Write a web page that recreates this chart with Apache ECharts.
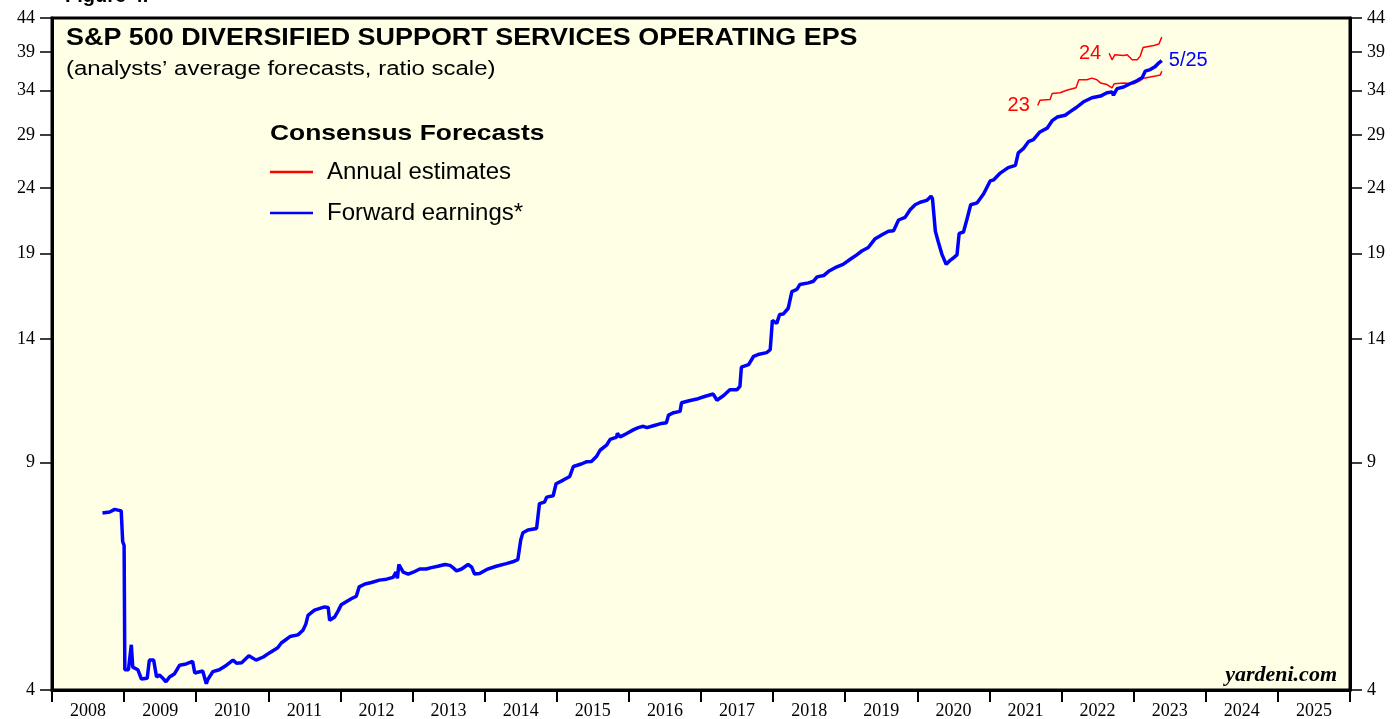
<!DOCTYPE html>
<html>
<head>
<meta charset="utf-8">
<script src="https://cdn.jsdelivr.net/npm/echarts@6/dist/echarts.min.js"></script>
<style>
  html, body { margin: 0; padding: 0; background: #fff; }
  #chart { width: 1393px; height: 719px; }
</style>
</head>
<body>
<div id="chart"></div>
<script>
// year labels along the bottom
const years = ['2008','2009','2010','2011','2012','2013','2014','2015','2016','2017','2018','2019','2020','2021','2022','2023','2024','2025']
// y ticks (ratio scale)
const yTicks = [4, 9, 14, 19, 24, 29, 34, 39, 44]

// forward earnings, [decimal year, EPS]
const forwardEps = [
  [2008.70,7.52],[2008.80,7.55],[2008.87,7.62],[2008.96,7.58],[2008.98,6.79],[2009.00,6.70],[2009.01,4.30],
  [2009.06,4.30],[2009.10,4.70],[2009.12,4.34],[2009.19,4.30],[2009.24,4.16],[2009.32,4.17],[2009.34,4.17],
  [2009.35,4.45],[2009.41,4.45],[2009.45,4.19],[2009.49,4.22],[2009.53,4.18],[2009.58,4.12],[2009.63,4.19],
  [2009.70,4.24],[2009.77,4.37],[2009.86,4.39],[2009.95,4.43],[2009.98,4.25],[2010.09,4.28],[2010.14,4.09],
  [2010.16,4.15],[2010.23,4.27],[2010.32,4.30],[2010.42,4.37],[2010.51,4.45],[2010.56,4.40],[2010.63,4.41],
  [2010.73,4.52],[2010.83,4.45],[2010.93,4.50],[2011.02,4.57],[2011.13,4.65],[2011.18,4.73],[2011.30,4.84],
  [2011.41,4.87],[2011.48,4.95],[2011.52,5.06],[2011.55,5.22],[2011.64,5.32],[2011.78,5.38],[2011.83,5.37],
  [2011.85,5.13],[2011.92,5.19],[2011.97,5.31],[2012.01,5.42],[2012.08,5.48],[2012.15,5.54],[2012.22,5.59],
  [2012.26,5.78],[2012.34,5.84],[2012.43,5.87],[2012.54,5.92],[2012.64,5.94],[2012.73,5.98],[2012.77,6.09],
  [2012.79,5.96],[2012.81,6.26],[2012.87,6.09],[2012.94,6.05],[2013.01,6.09],[2013.10,6.16],[2013.19,6.16],
  [2013.26,6.19],[2013.35,6.22],[2013.45,6.26],[2013.52,6.24],[2013.56,6.19],[2013.61,6.12],[2013.68,6.16],
  [2013.77,6.26],[2013.82,6.20],[2013.86,6.05],[2013.93,6.06],[2014.03,6.15],[2014.16,6.22],[2014.30,6.28],
  [2014.39,6.32],[2014.46,6.37],[2014.50,6.83],[2014.53,7.01],[2014.60,7.08],[2014.72,7.12],[2014.76,7.78],
  [2014.83,7.82],[2014.86,7.96],[2014.95,8.00],[2014.99,8.35],[2015.09,8.46],[2015.18,8.57],[2015.23,8.88],
  [2015.34,8.96],[2015.41,9.03],[2015.48,9.04],[2015.55,9.20],[2015.60,9.41],[2015.69,9.58],[2015.74,9.78],
  [2015.83,9.86],[2015.84,10.0],[2015.88,9.87],[2015.97,9.99],[2016.06,10.12],[2016.13,10.20],[2016.20,10.25],
  [2016.25,10.20],[2016.34,10.27],[2016.43,10.34],[2016.52,10.38],[2016.55,10.67],[2016.62,10.76],[2016.71,10.81],
  [2016.73,11.15],[2016.85,11.24],[2016.96,11.31],[2017.06,11.41],[2017.17,11.50],[2017.22,11.25],[2017.31,11.43],
  [2017.40,11.68],[2017.50,11.68],[2017.54,11.82],[2017.56,12.66],[2017.66,12.77],[2017.73,13.16],[2017.79,13.24],
  [2017.91,13.33],[2017.96,13.47],[2017.99,14.96],[2018.05,14.80],[2018.09,15.27],[2018.14,15.30],[2018.21,15.62],
  [2018.26,16.58],[2018.33,16.70],[2018.37,17.00],[2018.49,17.10],[2018.56,17.20],[2018.61,17.47],[2018.70,17.55],
  [2018.77,17.82],[2018.86,18.05],[2018.97,18.27],[2019.07,18.60],[2019.16,18.90],[2019.23,19.16],[2019.32,19.40],
  [2019.41,19.99],[2019.51,20.30],[2019.60,20.56],[2019.67,20.60],[2019.74,21.40],[2019.83,21.60],[2019.90,22.20],
  [2019.97,22.60],[2020.04,22.80],[2020.13,22.95],[2020.19,23.30],[2020.21,23.10],[2020.25,20.56],[2020.29,19.80],
  [2020.34,18.95],[2020.40,18.27],[2020.46,18.55],[2020.50,18.70],[2020.55,18.90],[2020.58,20.40],[2020.64,20.50],
  [2020.69,21.50],[2020.74,22.60],[2020.83,22.75],[2020.92,23.50],[2021.01,24.60],[2021.06,24.70],[2021.15,25.30],
  [2021.26,25.80],[2021.36,26.00],[2021.40,27.20],[2021.47,27.60],[2021.54,28.30],[2021.61,28.50],[2021.70,29.30],
  [2021.80,29.70],[2021.87,30.50],[2021.94,30.90],[2022.05,31.10],[2022.12,31.50],[2022.21,32.00],[2022.30,32.60],
  [2022.42,33.10],[2022.54,33.30],[2022.63,33.70],[2022.70,33.80],[2022.72,33.40],[2022.77,34.20],[2022.86,34.40],
  [2022.95,34.80],[2023.05,35.20],[2023.12,35.60],[2023.16,36.40],[2023.23,36.60],[2023.30,37.00],[2023.35,37.50],
  [2023.39,37.80]
]

// annual estimates for 2023
const annual2023 = [
  [2021.67,32.2],[2021.70,32.8],[2021.84,32.9],[2021.87,33.6],[2021.98,33.7],[2022.07,34.0],[2022.20,34.3],
  [2022.24,35.3],[2022.35,35.3],[2022.42,35.5],[2022.49,35.3],[2022.54,34.9],[2022.63,34.7],[2022.70,34.3],
  [2022.73,34.8],[2022.86,34.9],[2023.00,34.8],[2023.09,35.2],[2023.14,35.5],[2023.32,35.8],[2023.37,35.9],
  [2023.39,36.4]
]

// annual estimates for 2024
const annual2024 = [
  [2022.66,38.8],[2022.70,37.9],[2022.74,38.6],[2022.86,38.5],[2022.91,38.6],[2022.98,37.9],[2023.05,37.9],
  [2023.09,38.4],[2023.13,39.6],[2023.28,39.9],[2023.35,40.1],[2023.39,41.1]
]

const serif = '"Liberation Serif", "DejaVu Serif", serif'
const sans = '"Liberation Sans", Arial, sans-serif'

const ec = echarts.init(document.getElementById('chart'))

const yAxisBase = {
  type: 'log',
  min: 4,
  max: 44,
  axisLine: { show: true, lineStyle: { color: '#000', width: 3 } },
  axisTick: { show: true, length: 12, inside: false, customValues: yTicks, lineStyle: { color: '#000', width: 1.5 } },
  axisLabel: { customValues: yTicks, color: '#000', fontFamily: serif, fontSize: 18, margin: 17 },
  splitLine: { show: false },
  minorTick: { show: false }
}

// header texts are a bit wider than the font, so stretch them a little
function headText (text, x, y, font, sx) {
  return {
    type: 'text', x, y, scaleX: sx, z: 10,
    style: { text, font, fill: '#000', verticalAlign: 'middle' }
  }
}

ec.setOption({
  animation: false,
  backgroundColor: '#fff',
  title: {
    text: 'yardeni.com',
    right: 56, top: 664, padding: 0,
    textStyle: { fontFamily: serif, fontWeight: 'bold', fontStyle: 'italic', fontSize: 22, color: '#000' }
  },
  graphic: [
    { type: 'text', left: 65, top: -14, style: { text: 'Figure 4.', font: 'bold 20px ' + sans, fill: '#000' } },
    headText('S&P 500 DIVERSIFIED SUPPORT SERVICES OPERATING EPS', 66, 39, 'bold 23px ' + sans, 1.17),
    headText('(analysts’ average forecasts, ratio scale)', 66, 69, '20px ' + sans, 1.2),
    headText('Consensus Forecasts', 270, 134, 'bold 22px ' + sans, 1.2)
  ],
  legend: {
    orient: 'vertical',
    left: 270, top: 160, padding: 0,
    itemWidth: 43, itemHeight: 2.5, itemGap: 17,
    icon: 'rect',
    textStyle: { fontFamily: sans, fontSize: 24, color: '#000', padding: [0, 0, 0, 9] },
    data: [
      { name: 'Annual estimates', itemStyle: { color: '#ff0000' } },
      { name: 'Forward earnings*', itemStyle: { color: '#0000ff' } }
    ]
  },
  grid: {
    left: 52, right: 43, top: 18, bottom: 29,
    outerBoundsMode: 'none',
    show: true, backgroundColor: '#ffffe6', borderColor: '#000', borderWidth: 3
  },
  xAxis: [
    {
      type: 'value', min: 2008, max: 2026, interval: 1,
      position: 'bottom',
      axisLine: { show: true, lineStyle: { color: '#000', width: 3 } },
      axisTick: { show: true, length: 12, lineStyle: { color: '#000', width: 2 } },
      axisLabel: { show: false },
      splitLine: { show: false }
    },
    {
      type: 'category', data: years, boundaryGap: true,
      position: 'bottom', offset: 0,
      axisLine: { show: false },
      axisTick: { show: false },
      axisLabel: { color: '#000', fontFamily: serif, fontSize: 18, margin: 12, interval: 0 },
      splitLine: { show: false }
    }
  ],
  yAxis: [
    Object.assign({}, yAxisBase, { position: 'left' }),
    Object.assign({}, yAxisBase, { position: 'right' })
  ],
  series: [
    {
      name: 'Annual estimates',
      type: 'line',
      data: annual2023,
      showSymbol: false,
      lineStyle: { color: '#ff0000', width: 1.5 },
      itemStyle: { color: '#ff0000' },
      markPoint: {
        symbol: 'circle', symbolSize: 0,
        label: { show: true, position: 'left', distance: 8, formatter: '23', color: '#ff0000', fontFamily: sans, fontSize: 20 },
        data: [{ coord: annual2023[0] }]
      }
    },
    {
      name: 'Annual estimates',
      type: 'line',
      data: annual2024,
      showSymbol: false,
      lineStyle: { color: '#ff0000', width: 1.5 },
      itemStyle: { color: '#ff0000' },
      markPoint: {
        symbol: 'circle', symbolSize: 0,
        label: { show: true, position: 'left', distance: 8, formatter: '24', color: '#ff0000', fontFamily: sans, fontSize: 20 },
        data: [{ coord: annual2024[0] }]
      }
    },
    {
      name: 'Forward earnings*',
      type: 'line',
      data: forwardEps,
      showSymbol: false,
      z: 3,
      lineStyle: { color: '#0000ff', width: 3.5 },
      itemStyle: { color: '#0000ff' },
      endLabel: { show: true, formatter: '5/25', color: '#0000ff', fontFamily: sans, fontSize: 20, distance: 7 }
    }
  ]
})
</script>
</body>
</html>
